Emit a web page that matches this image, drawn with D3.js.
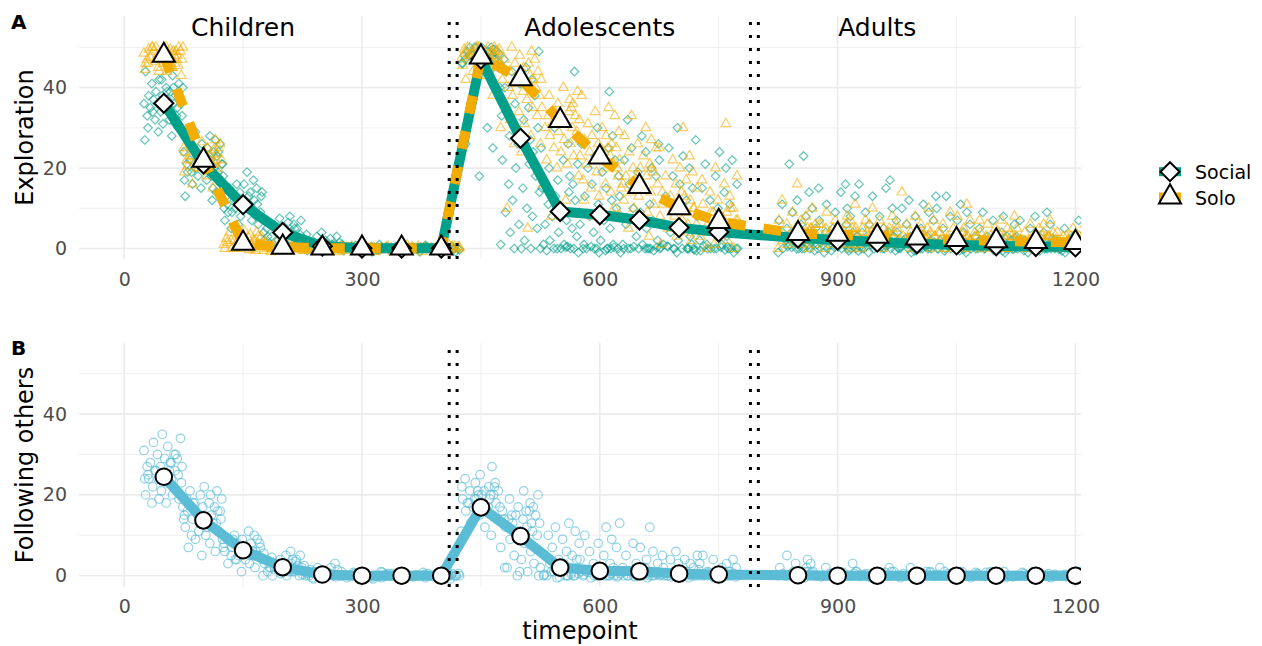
<!DOCTYPE html>
<html><head><meta charset="utf-8">
<script src="https://cdn.jsdelivr.net/npm/d3@7"></script>
<style>body{margin:0;background:#fff}svg{display:block}text{font-family:"DejaVu Sans",sans-serif}</style>
</head><body><svg id="c" width="1262" height="646"></svg>
<script>
// ---------------- data ----------------
const timepoints = [50,100,150,200,250,300,350,400,450,500,550,600,650,700,750,850,900,950,1000,1050,1100,1150,1200];
const socialMean = [36.1,21.0,10.9,4.0,0.6,0.1,0.1,0.1,47.1,27.4,9.2,8.4,7.1,5.2,4.1,2.6,2.1,1.6,1.2,0.9,0.7,0.5,0.4];
const soloMean   = [48.0,21.9,1.3,0.3,0.1,0.1,0.1,0.1,47.6,42.2,31.8,22.7,15.4,10.1,6.7,3.7,3.5,3.0,2.6,2.2,1.9,1.7,1.5];
const followMean = [24.5,13.7,6.3,2.1,0.3,0,0,0,16.9,9.8,2.0,1.2,1.1,0.5,0.3,0.1,0,0,0,0,0,0,0];
const phaseLabels = ["Children","Adolescents","Adults"];
const phaseLabelX = [150,600,950];
const phaseBounds = [410,420,790,800];
const xMajor = [0,300,600,900,1200], xMinor = [150,450,750,1050];
const yMajor = [0,20,40], yMinor = [10,30,50];
const jitter = [-23,11,-6,19,-15,3,24,-10,8,-19,15,-2,21,-13,5,-25,13,-8,1,17,-17,9,-4,23,-21,7,-11,14,-1,-20,18,-7,10,-24,4,22,-14,12,-3,16];
const socialCloud = [
 [44,43,42,41,41,40,40,39,39,38,38,38,37,37,37,36,36,36,35,35,35,34,34,33,33,32,32,31,31,30,30,29,28,27,39,36,34,40,42,33],
 [29,28,27,27,26,26,25,25,24,24,23,23,23,22,22,22,21,21,21,20,20,20,19,19,18,18,17,17,16,16,15,15,14,13,12,22,24,19,20,21],
 [19,18,17,16,16,15,15,14,14,13,13,13,12,12,12,11,11,11,10,10,10,9,9,9,8,8,7,7,6,6,5,12,14,10,11,9],
 [8,7.5,7,7,6.5,6,6,5.5,5,5,4.5,4,4,4,3.5,3,3,3,2.5,2,2,2,1.5,1,1,0.5,0,0,3,5,4,2],
 [4,3.5,3,3,2.5,2,2,1.5,1.5,1,1,1,0.5,0.5,0,0,0,-0.5,0,0.5,0,-0.5,0.5,1,0,0.3,-0.3,2],
 [1,0.5,0.5,0,0,-0.5,0,0.3,-0.3,0,0.5,0,-0.5,0,0.3,0,0,-0.3,0.5,0,1,-0.8,0.8,0],
 [0.5,0,-0.5,0,0.3,-0.3,0,0.5,0,-0.5,0,0.3,0,0,-0.3,0.5,0,0,0.2,-0.2,0.8,-0.8],
 [0.5,0,-0.5,0,0.3,-0.3,0,0.5,0,-0.5,0,0.3,0,0,-0.3,0.5,0,0.2,-0.2,0,0.8,-0.8],
 [50,50,50,49.5,49,49,49,48.5,48,48,48,47.5,47,47,47,46.5,46,46,45,45,50,49,48,47,46,44,50,49,48,47,40,37,30,26,25,18],
 [49,47,45,44,42,41,40,38,36,35,33,32,30,28,27,26,24,22,21,20,18,16,15,14,12,10,9,8,6,5,4,2,1,0,0,0],
 [44,30,26,25,22,21,20,18,17,16,15,14,13,12,11,10,9,8,7,6,5,4,3,2,1,0,0,0,0,0,-0.5,0.5,0,-1,1,0.3],
 [39,30,28,26,25,23,22,20,19,18,16,15,13,12,11,10,8,7,6,5,4,2,1,0,0,0,0,0,-0.5,0.5,0,-1,1,0.3,0,0],
 [32,28,26,25,24,22,20,19,18,16,15,13,11,10,9,7,6,5,3,2,1,0,0,0,0,0,-0.5,0.5,0,-1,1,0.3,0,0],
 [30,27,25,23,22,20,18,16,15,13,12,10,8,6,5,4,3,2,1,0,0,0,0,0,-0.5,0.5,0,-1,1,0.3,0,0,-0.3,0.6],
 [24,22,21,20,18,16,15,14,12,11,10,8,6,5,3,2,1,0,0,0,0,0,-0.5,0.5,0,-1,1,0.3,0,0,-0.3,0.6],
 [23,21,14,12,11,10,9,8,7,6,5,5,4,4,3,3,3,2,2,2,1,1,1,0,0,0,0,-0.5,0.5,0,-1,1,0.3,0,1.5,2.5],
 [16,15,14,13,11,10,9,8,7,6,5,4,4,3,3,2,2,2,1,1,1,0,0,0,0,-0.5,0.5,0,-1,1,0.3,0,1.5,2.5,0.8,-0.6],
 [17,16,15,13,10,9,8,7,6,5,4,4,3,3,2,2,2,1,1,1,0,0,0,0,-0.5,0.5,0,-1,1,0.3,0,1.5,2.5,0.8,-0.6,0.2],
 [13,12,11,10,9,8,7,6,5,4,3,3,2,2,2,1,1,1,0,0,0,0,-0.5,0.5,0,-1,1,0.3,0,1.5,2.5,0.8,-0.6,0.2,0,0.4],
 [13,11,10,9,8,7,6,5,4,3,3,2,2,2,1,1,1,0,0,0,0,-0.5,0.5,0,-1,1,0.3,0,1.5,2.5,0.8,-0.6,0.2,0,0.4,-0.2],
 [9,8,7,6,5,4,3,3,2,2,2,1,1,1,0,0,0,0,-0.5,0.5,0,-1,1,0.3,0,1.5,2.5,0.8,-0.6,0.2,0,0.4,-0.2,0.7],
 [9,8,7,6,5,4,3,2,2,2,1,1,1,0,0,0,0,-0.5,0.5,0,-1,1,0.3,0,1.5,2.5,0.8,-0.6,0.2,0,0.4,-0.2,0.7,1.2],
 [7,6,5,4,3,3,2,2,2,1,1,1,0,0,0,0,-0.5,0.5,0,-1,1,0.3,0,1.5,2.5,0.8,-0.6,0.2,0,0.4,-0.2,0.7,1.2,0.1]
];
const soloCloud = [
 [50,50,50,50,50,49.5,49.5,49,49,49,49,48.5,48.5,48,48,48,48,47.5,47.5,47,47,47,46.5,46.5,46,46,46,45.5,45,45,44.5,44,43,50,49,48,47,46,45,44],
 [27,26.5,26,25.5,25,25,24.5,24,24,23.5,23,23,22.5,22,22,22,21.5,21,21,20.5,20,20,19.5,19,18,17,16,15,23,22,24,21,20,25,23,22],
 [5,4.5,4,4,3.5,3,3,2.5,2.5,2,2,2,1.5,1.5,1,1,1,0.5,0.5,0,0,0,-0.5,0,1,2,3,2,1,0.5,0,-0.3],
 [1.5,1,1,0.5,0.5,0,0,0,0,-0.5,0,0.5,0,0.3,-0.3,0,1,0.5,0,0,-0.8,0.8,0.2,-0.2],
 [0.5,0,-0.5,0,0.3,-0.3,0,0.5,0,-0.5,0,0.3,0,0,-0.3,0.5,0,0.2,-0.2,0,0.8,-0.8,0.1,-0.1],
 [0.5,0,-0.5,0,0.3,-0.3,0,0.5,0,-0.5,0,0.3,0,0,-0.3,0.5,0,0.2,-0.2,0,0.8,-0.8,0.1,-0.1],
 [0.5,0,-0.5,0,0.3,-0.3,0,0.5,0,-0.5,0,0.3,0,0,-0.3,0.5,0,0.2,-0.2,0,0.8,-0.8,0.1,-0.1],
 [0.5,0,-0.5,0,0.3,-0.3,0,0.5,0,-0.5,0,0.3,0,0,-0.3,0.5,0,0.2,-0.2,0,0.8,-0.8,0.1,-0.1],
 [50,50,50,50,49.5,49.5,49,49,49,48.5,48.5,48,48,48,47.5,47,47,47,46.5,46,46,45.5,45,50,49,48,47,46,44,43,42,38,50,49,48,47],
 [50,49,48,47,47,46,46,45,45,44,44,43,43,42,42,41,41,40,40,39,38,38,37,36,35,34,33,32,31,30,28,26,24,22,10,5],
 [42,40,39,38,37,36,36,35,34,34,33,33,32,32,31,31,30,30,29,29,28,27,26,26,25,24,23,22,21,20,18,16,12,8,35,33],
 [38,35,34,33,31,30,29,28,28,27,26,26,25,24,24,23,23,22,22,21,21,20,19,18,17,16,15,14,13,12,10,8,25,27,22,20],
 [33,30,28,27,26,25,24,23,22,21,20,20,19,18,18,17,16,16,15,14,14,13,12,11,10,9,8,7,6,5,3,18,20,15],
 [30,25,23,22,20,19,18,17,16,15,14,13,13,12,11,11,10,10,9,8,7,6,5,4,3,2,1,6,8,10,12,14],
 [31,20,18,17,16,14,13,12,11,10,9,9,8,8,7,6,6,5,4,3,2,1,0,0,5,7,9,6,4,10],
 [16,12,10,9,8,7,7,6,6,5,5,5,4,4,4,4,3,3,3,3,2,2,2,2,1,1,1,0,0,3,4,5],
 [11,9,8,7,7,6,6,5,5,5,4,4,4,4,3,3,3,3,2,2,2,1,1,1,0,0,3,4,5,6,2,3],
 [10,8,7,7,6,6,5,5,5,4,4,4,3,3,3,3,2,2,2,1,1,1,0,0,3,4,5,2,3,4,2,1],
 [14,10,8,7,6,6,5,5,4,4,4,3,3,3,3,2,2,2,1,1,1,0,0,3,2,4,3,2,1,2,3,1],
 [11,9,8,7,6,5,5,4,4,4,3,3,3,2,2,2,2,1,1,1,0,0,3,2,4,3,2,1,0,2,3,1],
 [8,7,7,6,5,5,4,4,3,3,3,2,2,2,2,1,1,1,0,0,3,2,4,3,2,1,0,0,2,1,3,2],
 [7,6,6,5,5,4,4,3,3,3,2,2,2,1,1,1,0,0,3,2,3,2,1,0,0,1,2,2,1,3,2,1],
 [6,5,5,4,4,3,3,3,2,2,2,2,1,1,1,0,0,3,2,3,2,1,0,0,1,2,1,2,1,3,2,1]
];
const followCloud = [
 [35,34,33,32,31,30,30,29,29,28,28,27,27,27,26,26,26,25,25,25,24,24,24,23,23,22,22,21,21,20,20,19,19,18,18,17,26,28,24,30],
 [22,21,21,20,20,19,19,18,18,17,17,16,16,15,15,15,14,14,14,13,13,13,12,12,11,11,10,10,9,9,8,7,6,5,16,18,12,14],
 [11,10,10,9,9,9,8,8,8,7,7,7,6,6,6,6,5,5,5,5,4,4,4,3,3,2,1,8,9,6,7,5,4,6],
 [6,5.5,5,5,4.5,4,4,3.5,3,3,3,2.5,2,2,2,1.5,1,1,1,0.5,0,0,0,0,1,2,3,4,2,1],
 [3,2.5,2,2,1.5,1.5,1,1,1,0.5,0.5,0,0,0,-0.5,0,0.3,0,1,0,-0.3,0,0.5,0,0,0,0.8,-0.8],
 [1,0.5,0,-0.5,0,0.3,-0.3,0,0.5,0,-0.5,0,0.3,0,0,-0.3,0.5,0,0.2,-0.2,0.8,-0.8,0.1,0],
 [0.5,0,-0.5,0,0.3,-0.3,0,0.5,0,-0.5,0,0.3,0,0,-0.3,0.5,0,0.2,-0.2,0,0.8,-0.8,0.1,0],
 [0.5,0,-0.5,0,0.3,-0.3,0,0.5,0,-0.5,0,0.3,0,0,-0.3,0.5,0,0.2,-0.2,0,0.8,-0.8,0.1,0],
 [27,25,24,23,23,22,22,21,21,21,20,20,20,19,19,19,18,18,18,17,17,16,16,15,15,14,13,12,11,10,19,20,22,18,17,21],
 [21,20,19,18,17,17,16,16,15,15,14,14,13,13,12,12,11,11,10,9,8,7,6,5,4,3,2,1,0,0,14,16,15,13,1,2],
 [13,12,11,10,9,8,7,6,5,5,4,4,3,3,2,2,1,1,0,0,0,-0.5,0.5,0,0,1,0.5,-0.3,0.3,0,2,0],
 [12,10,9,8,7,6,5,4,3,3,2,2,1,1,0,0,0,0,-0.5,0.5,0,0.3,0,0,0,1,0.5,-0.3,0.8,0],
 [13,12,8,7,6,5,4,3,3,2,2,1,1,0,0,0,0,-0.5,0.5,0,0.3,0,0,0,0,1,0.5,-0.3,0.8,0],
 [6,5,5,4,4,3,3,2,2,1,1,0,0,0,0,-0.5,0.5,0,0.3,0,0,0,0,1,0.5,-0.3,0.8,0],
 [5,4,4,3,3,2,2,1,1,0,0,0,0,-0.5,0.5,0,0.3,0,0,0,0,1,0.5,-0.3,0.8,0,1.5,0],
 [5,4,3,3,2,2,1,1,0,0,0,0,-0.5,0.5,0,0.3,0,0,0,0,1,0.5,-0.3,0.8,0,1],
 [3,2,1,1,0.5,0,0,0,-0.5,0.5,0,0.3,0,0,0,0,0,0,0,0,1,-0.3,0.8,0],
 [2,1,1,0.5,0,0,0,-0.5,0.5,0,0.3,0,0,0,0,0,0,0,0,0,1,-0.3,0.8,0],
 [2,1,1,0.5,0,0,0,-0.5,0.5,0,0.3,0,0,0,0,0,0,0,0,0,1,-0.3,0.8,0],
 [2,1,0.5,0,0,0,-0.5,0.5,0,0.3,0,0,0,0,0,0,0,0,0,0,1,-0.3,0.8,0],
 [1,1,0.5,0,0,0,-0.5,0.5,0,0.3,0,0,0,0,0,0,0,0,0,0,1,-0.3,0.8,0],
 [1,0.5,0,0,0,-0.5,0.5,0,0.3,0,0,0,0,0,0,0,0,0,0,0,1,-0.3,0.8,0],
 [1,0.5,0,0,0,-0.5,0.5,0,0.3,0,0,0,0,0,0,0,0,0,0,0,1,-0.3,0.8,0]
];

// ---------------- drawing ----------------
const teal="#00A08A", orange="#F2AD00", blue="#5BBCD6";
const svg=d3.select("#c");
const L=79, R=1081;
const x=d3.scaleLinear().domain([-57,1207]).range([L,R]);
const yA=d3.scaleLinear().domain([-2.6,57.8]).range([259,16]);
const yB=d3.scaleLinear().domain([-2.8,57.6]).range([587,343]);

const diamond = r => `M0,${-r}L${r},0L0,${r}L${-r},0Z`;
const tri = s => `M0,${-1.555*s}L${1.347*s},${0.778*s}L${-1.347*s},${0.778*s}Z`;

function cloudPoints(cloud, shift){
  const pts=[];
  cloud.forEach((vals,k)=>vals.forEach((v,i)=>pts.push({x:timepoints[k]+jitter[(i+k*7+shift)%jitter.length], y:v})));
  return pts;
}

function panel(y, id, xPad){
  const top=y.range()[1], bot=y.range()[0];
  const g=svg.append("g");
  g.append("g").selectAll("line").data(yMinor).join("line")
    .attr("x1",L).attr("x2",R).attr("y1",d=>y(d)).attr("y2",d=>y(d))
    .attr("stroke","#ebebeb").attr("stroke-width",0.8);
  g.append("g").selectAll("line").data(xMinor).join("line")
    .attr("y1",top).attr("y2",bot).attr("x1",d=>x(d)).attr("x2",d=>x(d))
    .attr("stroke","#ebebeb").attr("stroke-width",0.8);
  g.append("g").selectAll("line").data(yMajor).join("line")
    .attr("x1",L).attr("x2",R).attr("y1",d=>y(d)).attr("y2",d=>y(d))
    .attr("stroke","#ebebeb").attr("stroke-width",1.6);
  g.append("g").selectAll("line").data(xMajor).join("line")
    .attr("y1",top).attr("y2",bot).attr("x1",d=>x(d)).attr("x2",d=>x(d))
    .attr("stroke","#ebebeb").attr("stroke-width",1.6);
  const ax=g.append("g").attr("transform",`translate(${L},0)`)
    .call(d3.axisLeft(y).tickValues(yMajor).tickSize(0).tickPadding(12).tickFormat(d3.format("d")));
  const bx=g.append("g").attr("transform",`translate(0,${bot})`)
    .call(d3.axisBottom(x).tickValues(xMajor).tickSize(0).tickPadding(xPad).tickFormat(d3.format("d")));
  [ax,bx].forEach(a=>{a.select(".domain").remove();
    a.selectAll("text").attr("font-size",19).attr("fill","#4d4d4d").attr("font-family","DejaVu Sans");});
  svg.append("clipPath").attr("id","clip"+id).append("rect")
    .attr("x",L).attr("y",top).attr("width",R-L).attr("height",bot-top);
  return svg.append("g").attr("clip-path",`url(#clip${id})`);
}
function vlines(p, y){
  p.append("g").selectAll("line").data(phaseBounds).join("line")
    .attr("x1",d=>x(d)).attr("x2",d=>x(d)).attr("y1",y.range()[0]).attr("y2",y.range()[1])
    .attr("stroke","#000").attr("stroke-width",3).attr("stroke-dasharray","3,10");
}

// Panel A
const pA=panel(yA,"A",13.5);
pA.append("g").selectAll("path").data(cloudPoints(socialCloud,0)).join("path")
  .attr("d",diamond(4.3)).attr("transform",d=>`translate(${x(d.x)},${yA(d.y)})`)
  .attr("fill","none").attr("stroke",teal).attr("stroke-width",1.2).attr("stroke-opacity",0.6);
pA.append("g").selectAll("path").data(cloudPoints(soloCloud,3)).join("path")
  .attr("d",tri(3.6)).attr("transform",d=>`translate(${x(d.x)},${yA(d.y)})`)
  .attr("fill","none").attr("stroke",orange).attr("stroke-width",1.2).attr("stroke-opacity",0.6);
const lineA=d3.line().x((d,i)=>x(timepoints[i])).y(d=>yA(d));
pA.append("path").attr("d",lineA(socialMean)).attr("fill","none").attr("stroke",teal)
  .attr("stroke-width",10).attr("stroke-linejoin","round");
pA.append("path").attr("d",lineA(soloMean)).attr("fill","none").attr("stroke",orange)
  .attr("stroke-width",10).attr("stroke-linejoin","round").attr("stroke-dasharray","18,18");
vlines(pA,yA);
pA.append("g").selectAll("path").data(socialMean).join("path")
  .attr("d",diamond(9.5)).attr("transform",(d,i)=>`translate(${x(timepoints[i])},${yA(d)})`)
  .attr("fill","#fff").attr("stroke","#000").attr("stroke-width",2);
pA.append("g").selectAll("path").data(soloMean).join("path")
  .attr("d",tri(8.2)).attr("transform",(d,i)=>`translate(${x(timepoints[i])},${yA(d)})`)
  .attr("fill","#fff").attr("stroke","#000").attr("stroke-width",2);
svg.append("g").selectAll("text").data(phaseLabels).join("text")
  .attr("x",(d,i)=>x(phaseLabelX[i])).attr("y",yA(55)+9).attr("text-anchor","middle")
  .attr("font-size",25).attr("fill","#000").text(d=>d);

// Panel B
const pB=panel(yB,"B",12.2);
pB.append("g").selectAll("circle").data(cloudPoints(followCloud,11)).join("circle")
  .attr("cx",d=>x(d.x)).attr("cy",d=>yB(d.y)).attr("r",4.3)
  .attr("fill","none").attr("stroke",blue).attr("stroke-width",1.2).attr("stroke-opacity",0.65);
const lineB=d3.line().x((d,i)=>x(timepoints[i])).y(d=>yB(d));
pB.append("path").attr("d",lineB(followMean)).attr("fill","none").attr("stroke",blue)
  .attr("stroke-width",10).attr("stroke-linejoin","round");
vlines(pB,yB);
pB.append("g").selectAll("circle").data(followMean).join("circle")
  .attr("cx",(d,i)=>x(timepoints[i])).attr("cy",d=>yB(d)).attr("r",8.3)
  .attr("fill","#fff").attr("stroke","#000").attr("stroke-width",2);

// titles
svg.append("text").attr("transform","translate(33.3,137.5) rotate(-90)").attr("text-anchor","middle")
  .attr("font-size",24).text("Exploration");
svg.append("text").attr("transform","translate(33.3,465) rotate(-90)").attr("text-anchor","middle")
  .attr("font-size",24).text("Following others");
svg.append("text").attr("x",(L+R)/2).attr("y",638.5).attr("text-anchor","middle")
  .attr("font-size",24).text("timepoint");
svg.append("text").attr("x",11).attr("y",28.5).attr("font-size",20).attr("font-weight","bold").text("A");
svg.append("text").attr("x",11).attr("y",354.5).attr("font-size",20).attr("font-weight","bold").text("B");

// legend
const legendNames=["Social","Solo"], legendColors=[teal,orange], legendY=[171.7,197];
const lg=svg.append("g");
legendNames.forEach((n,i)=>{
  lg.append("rect").attr("x",1159).attr("y",legendY[i]-4.5).attr("width",22).attr("height",9).attr("fill",legendColors[i]);
  lg.append("path").attr("d",i===0?diamond(9.5):tri(8.2)).attr("transform",`translate(1170,${legendY[i]})`)
    .attr("fill","#fff").attr("stroke","#000").attr("stroke-width",2);
  lg.append("text").attr("x",1195).attr("y",legendY[i]+7.6+(i===1?0.4:0)).attr("font-size",19).text(n);
});
</script></body></html>
